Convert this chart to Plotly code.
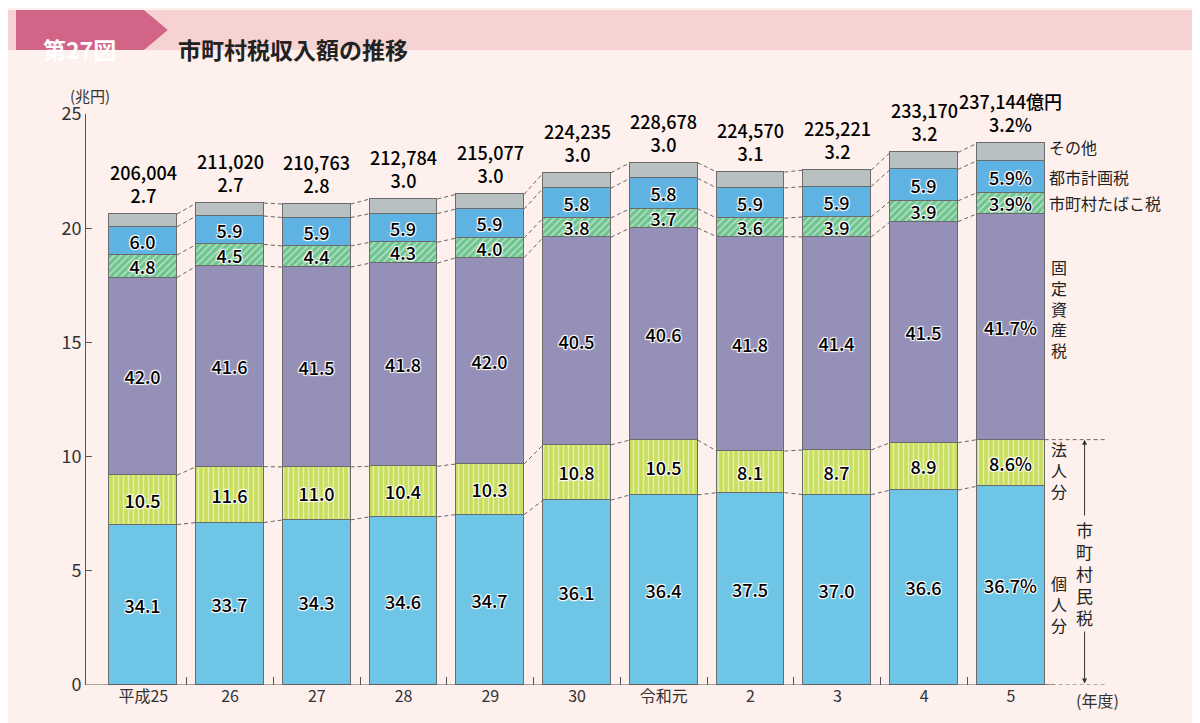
import plotly.graph_objects as go

years = ["平成25", "26", "27", "28", "29", "30", "令和元", "2", "3", "4", "5"]
totals = [206004, 211020, 210763, 212784, 215077, 224235, 228678, 224570, 225221, 233170, 237144]  # 億円
kojin = [34.1, 33.7, 34.3, 34.6, 34.7, 36.1, 36.4, 37.5, 37.0, 36.6, 36.7]
hojin = [10.5, 11.6, 11.0, 10.4, 10.3, 10.8, 10.5, 8.1, 8.7, 8.9, 8.6]
kotei = [42.0, 41.6, 41.5, 41.8, 42.0, 40.5, 40.6, 41.8, 41.4, 41.5, 41.7]
tabako = [4.8, 4.5, 4.4, 4.3, 4.0, 3.8, 3.7, 3.6, 3.9, 3.9, 3.9]
toshi = [6.0, 5.9, 5.9, 5.9, 5.9, 5.8, 5.8, 5.9, 5.9, 5.9, 5.9]
sonota = [2.7, 2.7, 2.8, 3.0, 3.0, 3.0, 3.0, 3.1, 3.2, 3.2, 3.2]

BG = "#fdf0ed"
FONT = "Noto Sans CJK JP"
SHADOW = "1px 1px 1px white, -1px -1px 1px white, 1px -1px 1px white, -1px 1px 1px white"
x = list(range(len(years)))
W = 0.78

series = [
    (kojin, "#6fc5e5", ""),
    (hojin, "#c8de5c", "|"),
    (kotei, "#9590b8", ""),
    (tabako, "#6fc48f", "/"),
    (toshi, "#5fb3e2", ""),
    (sonota, "#b9c0c2", ""),
]

fig = go.Figure()
cum = [[0.0] * len(x)]
n = len(x) - 1
for vals, color, pat in series:
    h = [t / 10000 * v / 100 for t, v in zip(totals, vals)]
    text = []
    for i, v in enumerate(vals):
        if vals is sonota:
            text.append("")
        elif i == n:
            text.append(f"{v:.1f}%")
        else:
            text.append(f"{v:.1f}")
    fig.add_trace(go.Bar(
        x=x, y=h, width=W, text=text, textposition="inside", insidetextanchor="middle",
        textangle=0, constraintext="none",
        textfont=dict(size=18, color="black", family=FONT, weight=500, shadow=SHADOW),
        marker=dict(color=color, line=dict(color="#6b6b6b", width=1),
                    pattern=dict(shape=pat, fgcolor="white", bgcolor=color, size=5, solidity=0.3) if pat else None),
        showlegend=False, hoverinfo="skip"))
    cum.append([c + hh for c, hh in zip(cum[-1], h)])

DASH = dict(color="#666", width=1, dash="4px,3px")
# dashed connectors between bars
for lvl in cum[1:]:
    xs, ys = [], []
    for i in range(n):
        xs += [x[i] + W / 2, x[i + 1] - W / 2, None]
        ys += [lvl[i], lvl[i + 1], None]
    fig.add_trace(go.Scatter(x=xs, y=ys, mode="lines", line=DASH, showlegend=False, hoverinfo="skip"))
# extensions for 市町村民税 bracket
for lvl in [cum[2][n], 0]:
    fig.add_trace(go.Scatter(x=[n + W / 2, 11.1], y=[lvl, lvl], mode="lines", line=DASH,
                             showlegend=False, hoverinfo="skip"))
AX = 10.85
fig.add_annotation(x=AX, y=cum[2][n], ax=AX, ay=0, xref="x", yref="y", axref="x", ayref="y",
                   showarrow=True, arrowhead=2, arrowside="end+start", arrowwidth=1, arrowcolor="#333", text="")
fig.add_annotation(x=AX, y=cum[2][n] / 2 - 0.5, text="市<br>町<br>村<br>民<br>税", showarrow=False,
                   bgcolor=BG, font=dict(size=17, family=FONT, color="#222"))

# totals on top
for i in x:
    tot = f"{totals[i]:,}" + ("億円" if i == n else "")
    pct = f"{sonota[i]:.1f}" + ("%" if i == n else "")
    fig.add_annotation(x=i, y=cum[-1][i], yshift=4, text=f"{tot}<br>{pct}", showarrow=False,
                       yanchor="bottom", font=dict(size=18, family=FONT, weight=500, color="black"))

# right-side labels
right = [(cum[5][n] + cum[6][n]) / 2 + 0.2, (cum[4][n] + cum[5][n]) / 2, (cum[3][n] + cum[4][n]) / 2]
for y, t in zip(right, ["その他", "都市計画税", "市町村たばこ税"]):
    fig.add_annotation(x=10.42, y=y, xref="x", text=t, showarrow=False, xanchor="left",
                       font=dict(size=16, family=FONT, color="#222"))
VX = 10.55
fig.add_annotation(x=VX, y=(cum[2][n] + cum[3][n]) / 2 + 0.8, text="固<br>定<br>資<br>産<br>税", showarrow=False,
                   font=dict(size=16, family=FONT, color="#222"))
fig.add_annotation(x=VX, y=(cum[1][n] + cum[2][n]) / 2 - 0.3, text="法<br>人<br>分", showarrow=False,
                   font=dict(size=16, family=FONT, color="#222"))
fig.add_annotation(x=VX, y=cum[1][n] / 2 - 0.8, text="個<br>人<br>分", showarrow=False,
                   font=dict(size=16, family=FONT, color="#222"))

# header band
fig.add_shape(type="rect", xref="paper", yref="paper", x0=-0.08, x1=1.1, y0=1.112, y1=1.182,
              fillcolor="#f6d3d2", line_width=0, layer="below")
fig.add_shape(type="path", xref="paper", yref="paper",
              path="M -0.0685 1.112 L 0.0567 1.112 L 0.080 1.147 L 0.0567 1.182 L -0.0685 1.182 Z",
              fillcolor="#d26487", line_width=0, layer="below")
fig.add_annotation(xref="paper", yref="paper", x=-0.006, y=1.147, text="<b>第27図</b>", showarrow=False,
                   xanchor="center", font=dict(size=23, family=FONT, color="white"))
fig.add_annotation(xref="paper", yref="paper", x=0.088, y=1.147, text="<b>市町村税収入額の推移</b>", showarrow=False,
                   xanchor="left", font=dict(size=23, family=FONT, color="#222"))
fig.add_annotation(xref="paper", yref="paper", x=0.025, y=1.054, text="(兆円)", showarrow=False,
                   xanchor="right", font=dict(size=15, family=FONT, color="#333"))
fig.add_annotation(xref="x", yref="paper", x=11.0, y=-0.026, text="(年度)", showarrow=False,
                   yanchor="middle", font=dict(size=16, family=FONT, color="#333"))

fig.update_layout(
    width=1200, height=723, barmode="stack", bargap=0,
    paper_bgcolor=BG, plot_bgcolor=BG,
    margin=dict(l=78, r=100, t=106, b=46),
    font=dict(family=FONT, size=16, color="#333"),
    xaxis=dict(range=[-0.66, 11.12], tickvals=x, ticktext=years, ticks="", showgrid=False, zeroline=False,
               showline=False, tickfont=dict(size=16),
               minor=dict(tickvals=[i + 0.5 for i in x[:-1]], ticks="inside", ticklen=8, tickcolor="#555")),
    yaxis=dict(range=[0, 25], dtick=5, ticks="inside", ticklen=6, tickcolor="#555", showgrid=False,
               zeroline=False, showline=True, linecolor="#555", tickfont=dict(size=18)),
)
fig.add_shape(type="line", xref="x", yref="y", x0=-0.66, x1=10.5, y0=0, y1=0, line=dict(color="#555", width=1))

fig.write_html("out.html")
